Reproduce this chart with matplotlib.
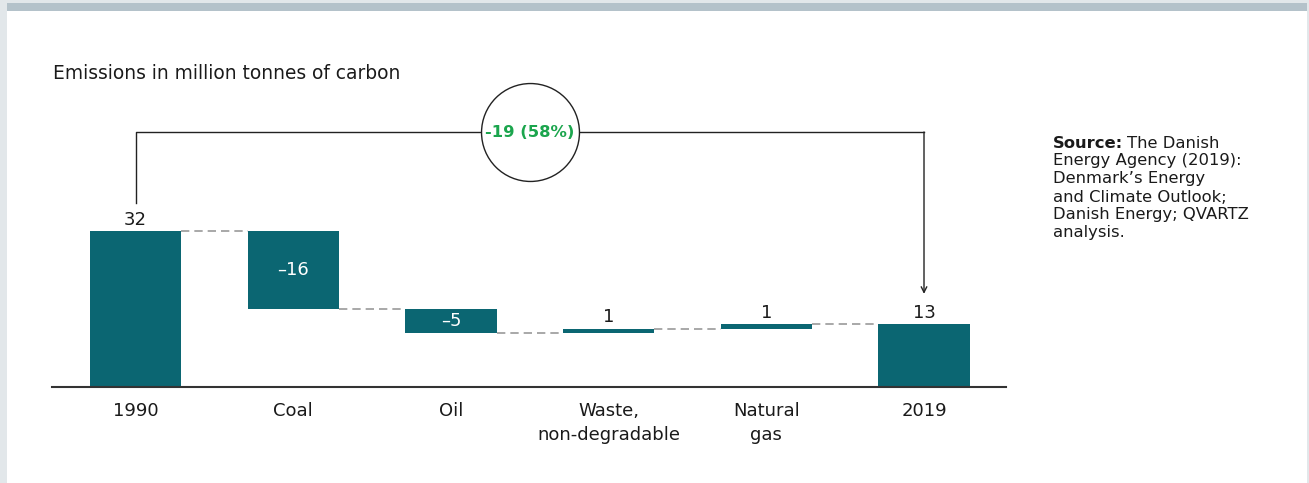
import matplotlib
matplotlib.use("Agg")
import matplotlib.pyplot as plt
from matplotlib.patches import Rectangle

plt.rcParams['font.family'] = ['DejaVu Sans']

# Waterfall data: emissions in million tonnes of carbon
categories = ["1990", "Coal", "Oil", "Waste,\nnon-degradable", "Natural\ngas", "2019"]
changes = [32, -16, -5, 1, 1, 13]
value_labels = ["32", "\u201316", "\u20135", "1", "1", "13"]
total_change_label = "-19 (58%)"
source_bold = "Source:"
source_text = ("Source: The Danish\nEnergy Agency (2019):\nDenmark\u2019s Energy\n"
               "and Climate Outlook;\nDanish Energy; QVARTZ\nanalysis.")

BAR = "#0b6672"
GREEN = "#1ba54d"
DASH = "#9a9a9a"
TXT = "#1a1a1a"
FS = 13

W, H = 1309, 483
fig = plt.figure(figsize=(W / 100, H / 100), dpi=100)
fig.patch.set_facecolor("#e2e7ea")

# page panel and top strip
fig.add_artist(Rectangle((7 / W, 0), (1307 - 7) / W, (H - 11) / H,
                         transform=fig.transFigure, facecolor="white", edgecolor="none", zorder=0))
fig.add_artist(Rectangle((7 / W, (H - 11) / H), (1307 - 7) / W, 8 / H,
                         transform=fig.transFigure, facecolor="#b4c2ca", edgecolor="none", zorder=0))

ax = fig.add_axes([52 / W, 96 / H, 954 / W, 255 / H])
ax.set_facecolor("none")
ymax = 255 / (156 / 32)
ax.set_ylim(0, ymax)
ax.set_xlim(-0.53, 5.52)

width = 0.578
x = list(range(len(categories)))

# compute bar bottoms/heights
bottoms, heights, levels = [], [], []
running = 0
for i, c in enumerate(changes):
    if i == 0 or i == len(changes) - 1:
        bottoms.append(0)
        heights.append(c)
        running = c
    else:
        if c < 0:
            bottoms.append(running + c)
            heights.append(-c)
        else:
            bottoms.append(running)
            heights.append(c)
        running += c
    levels.append(running)

ax.bar(x, heights, bottom=bottoms, width=width, color=BAR, zorder=2)

# dashed connectors
for i in range(len(x) - 1):
    ax.plot([x[i] + width / 2, x[i + 1] - width / 2], [levels[i], levels[i]],
            color=DASH, lw=1.2, ls=(0, (5, 3)), zorder=1)

# value labels
for i, (b, h, lab) in enumerate(zip(bottoms, heights, value_labels)):
    if changes[i] < 0:
        ax.text(x[i], b + h / 2, lab, ha="center", va="center", color="white", fontsize=FS)
    else:
        ax.annotate(lab, (x[i], b + h), xytext=(0, 1.5), textcoords="offset points",
                    ha="center", va="bottom", color=TXT, fontsize=FS)

# bracket showing total change
ax.plot([x[0], x[0], x[-1]], [37.7, ymax, ymax], color="#222222", lw=1, clip_on=False, zorder=3)
ax.annotate("", xy=(x[-1], 19.1), xytext=(x[-1], ymax),
            arrowprops=dict(arrowstyle="->", color="#222222", lw=1, shrinkA=0, shrinkB=0),
            annotation_clip=False, zorder=3)
ax.plot([2.5], [ymax], marker="o", markersize=70.5, markerfacecolor="white",
        markeredgecolor="#222222", markeredgewidth=1, clip_on=False, zorder=4)
ax.text(2.5, ymax, total_change_label, ha="center", va="center", color=GREEN,
        fontsize=11.8, fontweight="bold", zorder=5)

# axis styling
for s in ["top", "right", "left"]:
    ax.spines[s].set_visible(False)
ax.spines["bottom"].set_color("#333333")
ax.spines["bottom"].set_linewidth(1.5)
ax.set_yticks([])
ax.set_xticks(x)
ax.set_xticklabels(categories, fontsize=FS, color=TXT, linespacing=1.42)
ax.tick_params(axis="x", length=0, pad=11)

fig.text(53 / W, 1 - 73.5 / H, "Emissions in million tonnes of carbon", fontsize=13.4,
         color=TXT, va="center", ha="left")

# source note
src_lines = source_text.split("\n")
y0 = 143
for k, line in enumerate(src_lines):
    yy = 1 - (y0 + 18 * k) / H
    if k == 0:
        t = fig.text(1053 / W, yy, source_bold, fontsize=11.8, fontweight="bold",
                     color=TXT, va="center", ha="left")
        fig.canvas.draw()
        bb = t.get_window_extent()
        fig.text((bb.x1 + 4) / W, yy, line[len(source_bold) + 1:], fontsize=11.8,
                 color=TXT, va="center", ha="left")
    else:
        fig.text(1053 / W, yy, line, fontsize=11.8, color=TXT, va="center", ha="left")

fig.savefig("out.png", dpi=100, facecolor=fig.get_facecolor())
